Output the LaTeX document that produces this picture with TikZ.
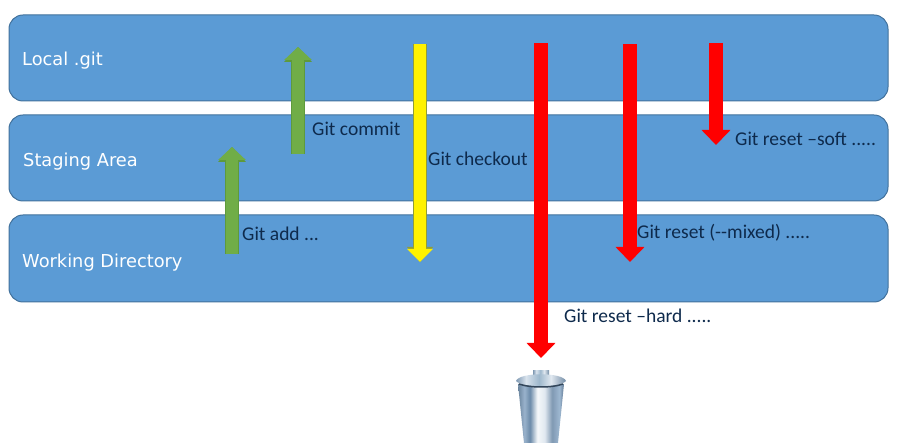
\documentclass[tikz,border=0pt]{standalone}
\usepackage{fontspec}
\setmainfont{Carlito}
\newfontfamily\bandfont{DejaVu Sans}
\usetikzlibrary{arrows.meta,positioning}
\definecolor{bandblue}{HTML}{5B9BD5}
\definecolor{bandedge}{HTML}{41719C}
\definecolor{labelnavy}{HTML}{0E2A4C}
\definecolor{cmdgreen}{HTML}{70AD47}
\definecolor{greenedge}{HTML}{5E9A3C}
\definecolor{olive}{HTML}{8F9C3A}
\definecolor{bindark}{HTML}{33465A}
\pgfdeclarehorizontalshading{binbody}{100bp}{
	rgb(0bp)=(.42,.52,.62);
	rgb(25bp)=(.42,.52,.62);
	rgb(32bp)=(.60,.70,.80);
	rgb(38bp)=(.42,.54,.66);
	rgb(46bp)=(.96,.97,.98);
	rgb(54bp)=(.88,.91,.94);
	rgb(62bp)=(.50,.60,.70);
	rgb(70bp)=(.62,.72,.82);
	rgb(75bp)=(.38,.48,.58);
	rgb(100bp)=(.38,.48,.58)}
\pgfdeclarehorizontalshading{binlid}{100bp}{
	rgb(0bp)=(.50,.60,.70);
	rgb(25bp)=(.50,.60,.70);
	rgb(35bp)=(.85,.89,.93);
	rgb(48bp)=(.62,.72,.80);
	rgb(60bp)=(.88,.91,.94);
	rgb(75bp)=(.45,.55,.65);
	rgb(100bp)=(.45,.55,.65)}
\tikzset{
	band/.style = {draw=bandedge, fill=bandblue, line width=1pt, rounded corners=14pt},
	bandlabel/.style = {anchor=base west, inner sep=0pt, text=white, font=\bandfont\fontsize{17.8}{20}\selectfont},
	cmdlabel/.style = {anchor=base west, inner sep=0pt, text=labelnavy, font=\fontsize{19.5}{22}\selectfont},
	blockarrow/.style n args = {3}{line width=12pt, draw=#1,
		-{Triangle[width=#3pt, length=13pt]},
		preaction={draw=#2, line width=14pt, -{Triangle[width=#3pt, length=15pt]}}},
	greenarrow/.style = {blockarrow={cmdgreen}{greenedge}{27}},
	yellowarrow/.style = {blockarrow={yellow}{olive}{25}},
	redarrow/.style = {line width=14pt, draw=red, -{Triangle[width=28pt, length=15pt]}}
}
\begin{document}
\begin{tikzpicture}[x=1pt, y=-1pt]
	\useasboundingbox (0,0) rectangle (900,443);
	% the three areas
	\draw[band] (9,15) rectangle (888,101);
	\draw[band] (9,115) rectangle (888,201);
	\draw[band] (9,215) rectangle (888,302);
	\node[bandlabel] (local) at (22,66) {Local .git};
	\node[bandlabel] (staging) at (23,167) {Staging Area};
	\node[bandlabel] (working) at (22,268) {Working Directory};
	% arrow ends
	\coordinate (addfrom) at (232,254);
	\coordinate (addto) at (232,147);
	\coordinate (commitfrom) at (298,154);
	\coordinate (committo) at (298,47);
	\coordinate (checkfrom) at (420,44);
	\coordinate (checkto) at (420,262);
	\coordinate (hardfrom) at (541,43);
	\coordinate (hardto) at (541,358);
	\coordinate (mixedfrom) at (630,44);
	\coordinate (mixedto) at (630,262);
	\coordinate (softfrom) at (716,43);
	\coordinate (softto) at (716,145);
	\draw[greenarrow] (addfrom) -- (addto);
	\draw[greenarrow] (commitfrom) -- (committo);
	\draw[yellowarrow] (checkfrom) -- (checkto);
	\draw[redarrow] (hardfrom) -- (hardto);
	\draw[redarrow] (mixedfrom) -- (mixedto);
	\draw[redarrow] (softfrom) -- (softto);
	% labels
	\node[cmdlabel] (add) at (242,241) {Git add ...};
	\node[cmdlabel] (commit) at (312,136) {Git commit};
	\node[cmdlabel] (checkout) at (428,166) {Git checkout};
	\node[cmdlabel] (soft) at (735,146) {Git reset --soft .....};
	\node[cmdlabel] (mixed) at (637,239) {Git reset (-{}-mixed) .....};
	\node[cmdlabel] (hard) at (564,323) {Git reset --hard .....};
	% trash can
	\path[shading=binbody] (518,384) -- (564,384) -- (558,443) -- (524,443) -- cycle;
	\path[shading=binlid] (533,376) rectangle (549,371);
	\path[shading=binlid] (516,381) .. controls (519,372) and (563,372) .. (566,381) .. controls (560,388) and (522,388) .. (516,381) -- cycle;
	\draw[bindark, line width=1.5pt] (519,384) .. controls (530,388) and (552,388) .. (563,384);
\end{tikzpicture}
\end{document}
